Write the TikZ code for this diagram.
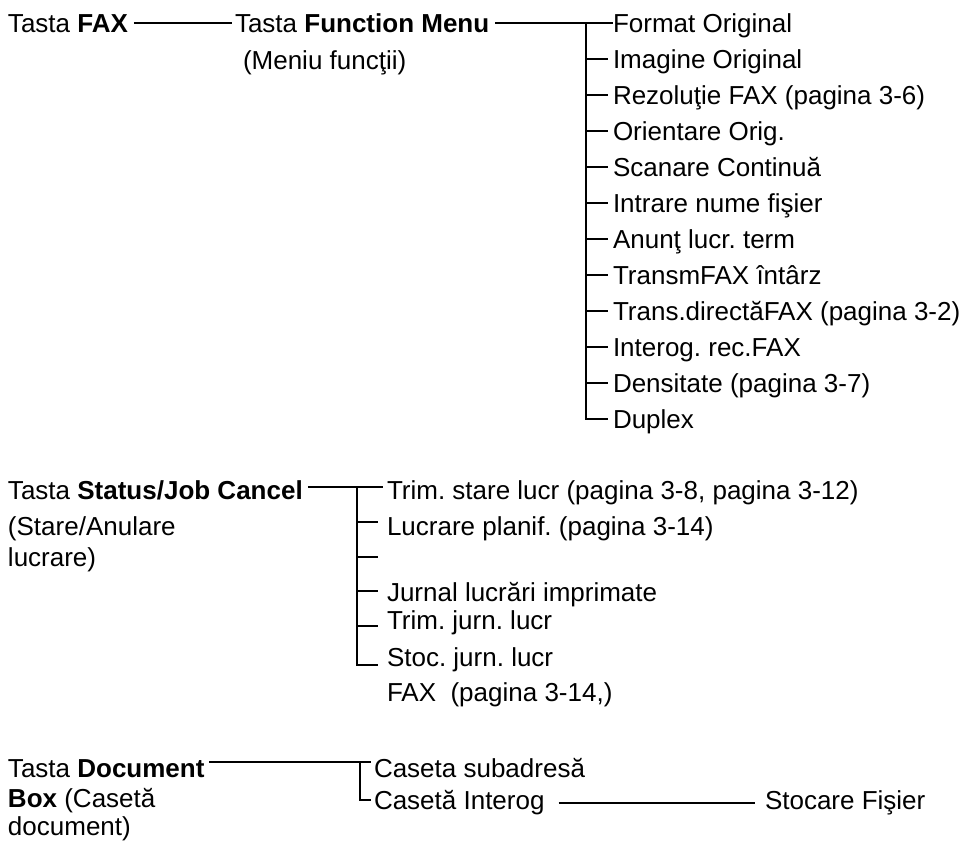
\documentclass[tikz,border=0pt]{standalone}
\usepackage{fontspec}
\setmainfont{Liberation Sans}
\begin{document}
\frenchspacing
\begin{tikzpicture}[x=1pt,y=-1pt,
  lbl/.style={anchor=base west, inner sep=0pt, outer sep=0pt, font=\fontsize{26}{30}\selectfont},
  conn/.style={line width=2pt}]
\useasboundingbox (0,0) rectangle (972,841);

% ---------- Section 1 ----------
\node[lbl] (tfax) at (8,32) {Tasta \textbf{FAX}};
\node[lbl] (tfm) at (235,32) {Tasta \textbf{Function Menu}};
\node[lbl] (mf) at (243,69) {(Meniu funcţii)};
\foreach \t [count=\i from 0] in {{Format Original},{Imagine Original},{Rezoluţie FAX (pagina 3-6)},{Orientare Orig.},{Scanare Continuă},{Intrare nume fişier},{Anunţ lucr. term},{TransmFAX întârz},{Trans.directăFAX (pagina 3-2)},{Interog. rec.FAX},{Densitate (pagina 3-7)},{Duplex}}
  \node[lbl] (m\i) at (613,{32+36*\i}) {\t};
\coordinate (b1) at (586,23);
\draw[conn] ([shift={(6,-9)}]tfax.base east) -- ([shift={(-3,-9)}]tfm.base west);
\draw[conn] ([shift={(6,-9)}]tfm.base east) -- ([shift={(0,-9)}]m0.base west);
\foreach \i in {1,...,10} {
  \path ([shift={(-5,-9)}]m\i.base west) coordinate (t\i);
  \draw[conn] (b1 |- t\i) -- (t\i);
}
\path ([shift={(-5,-9)}]m11.base west) coordinate (t11);
\draw[conn] (b1) |- (t11);

% ---------- Section 2 ----------
\node[lbl] (tsj) at (8,499) {Tasta \textbf{Status/Job Cancel}};
\node[lbl] (sa) at (8,535) {(Stare/Anulare};
\node[lbl] (lc) at (8,566) {lucrare)};
\node[lbl] (s1) at (387,499) {Trim. stare lucr (pagina 3-8, pagina 3-12)};
\node[lbl] (s2) at (387,535) {Lucrare planif. (pagina 3-14)};
\node[lbl] (s4) at (387,601) {Jurnal lucrări imprimate};
\node[lbl] (s5) at (387,629) {Trim. jurn. lucr};
\node[lbl] (s6) at (387,666) {Stoc. jurn. lucr};
\node[lbl] (s7) at (387,701) {FAX\ \ (pagina 3-14,)};
\coordinate (b2) at (357,487);
\coordinate (e2) at (378,522);
\coordinate (e3) at (378,557);
\coordinate (e4) at (378,591);
\coordinate (e5) at (378,626);
\coordinate (e6) at (378,665);
\draw[conn] ([shift={(5,-12)}]tsj.base east) -- ([shift={(-4,-12)}]s1.base west);
\foreach \e in {e2,e3,e4,e5} \draw[conn] (b2 |- \e) -- (\e);
\draw[conn] (b2) |- (e6);

% ---------- Section 3 ----------
\node[lbl] (tdb) at (8,777) {Tasta \textbf{Document}};
\node[lbl] (bx) at (8,807) {\textbf{Box} (Casetă};
\node[lbl] (dc) at (8,835) {document)};
\node[lbl] (c1) at (374,777) {Caseta subadresă};
\node[lbl] (c2) at (374,809) {Casetă Interog};
\node[lbl] (sf) at (765,809) {Stocare Fişier};
\coordinate (b3) at (360,762);
\draw[conn] ([shift={(5,-15)}]tdb.base east) -- ([shift={(-3,-15)}]c1.base west);
\draw[conn] (b3) |- ([shift={(-3,-9)}]c2.base west);
\draw[conn] ([shift={(14,-6)}]c2.base east) -- ([shift={(-10,-6)}]sf.base west);
\end{tikzpicture}
\end{document}
